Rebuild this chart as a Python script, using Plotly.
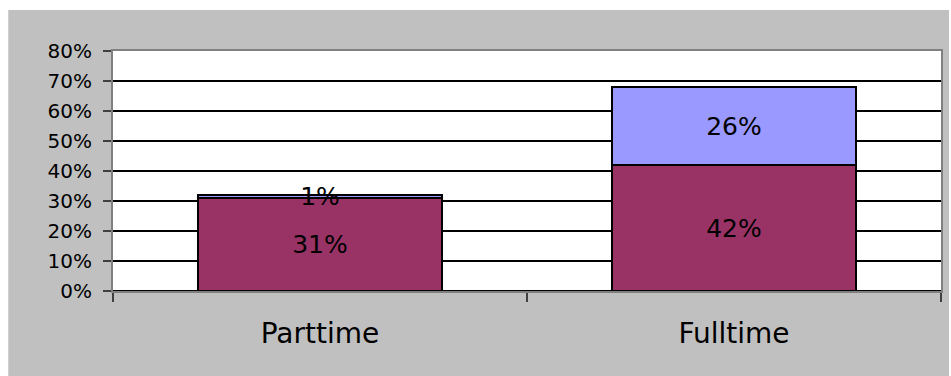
import plotly.graph_objects as go

categories = ["Parttime", "Fulltime"]
series_bottom = [0.31, 0.42]
series_top = [0.01, 0.26]
bottom_labels = ["31%", "42%"]
top_labels = ["1%", "26%"]

W, H = 951, 376
ml, mr, mt, mb = 113, 8, 51, 85
pw, ph = W - ml - mr, H - mt - mb

fig = go.Figure()
fig.add_trace(go.Bar(x=categories, y=series_bottom, text=bottom_labels,
                     marker=dict(color="#993366", line=dict(color="black", width=2)),
                     textposition="inside", insidetextanchor="middle", textangle=0,
                     textfont=dict(family="DejaVu Sans", size=25, color="black"),
                     hoverinfo="skip"))
fig.add_trace(go.Bar(x=categories, y=series_top, text=top_labels,
                     marker=dict(color="#9999FF", line=dict(color="black", width=2)),
                     textposition="inside", insidetextanchor="middle", textangle=0,
                     textfont=dict(family="DejaVu Sans", size=25, color="black"),
                     cliponaxis=False, hoverinfo="skip"))

# grey chart-area background
fig.add_shape(type="rect", xref="paper", yref="paper", layer="below",
              x0=(8 - ml) / pw, x1=(W - ml) / pw,
              y0=-(H - (mt + ph)) / ph, y1=(mt + ph - 10) / ph,
              fillcolor="#C0C0C0", line=dict(width=0))
# white plot area
fig.add_shape(type="rect", xref="paper", yref="paper", layer="below",
              x0=0, x1=1, y0=0, y1=1,
              fillcolor="white", line=dict(width=0))

fig.update_layout(
    width=W, height=H, margin=dict(l=ml, r=mr, t=mt, b=mb),
    barmode="stack", bargap=0.41,
    paper_bgcolor="white", plot_bgcolor="white",
    showlegend=False,
    uniformtext=dict(minsize=25, mode="show"),
    font=dict(family="DejaVu Sans", color="black"),
)
fig.update_xaxes(type="category", tickson="boundaries", ticks="outside", ticklen=9,
                 tickcolor="#404040", tickwidth=1.5,
                 showline=True, linecolor="#808080", linewidth=2, mirror=True,
                 showgrid=False, tickfont=dict(family="DejaVu Sans", size=28, color="black"),
                 ticklabelstandoff=16)
fig.update_yaxes(range=[0, 0.8], dtick=0.1, tickformat=".0%", ticks="outside", ticklen=8,
                 tickcolor="#404040", tickwidth=1.5,
                 showline=True, linecolor="#808080", linewidth=2, mirror=True,
                 showgrid=True, gridcolor="black", gridwidth=2,
                 zeroline=True, zerolinecolor="black", zerolinewidth=2,
                 tickfont=dict(family="DejaVu Sans", size=20, color="black"),
                 ticklabelstandoff=7)

fig.write_html("out.html")
